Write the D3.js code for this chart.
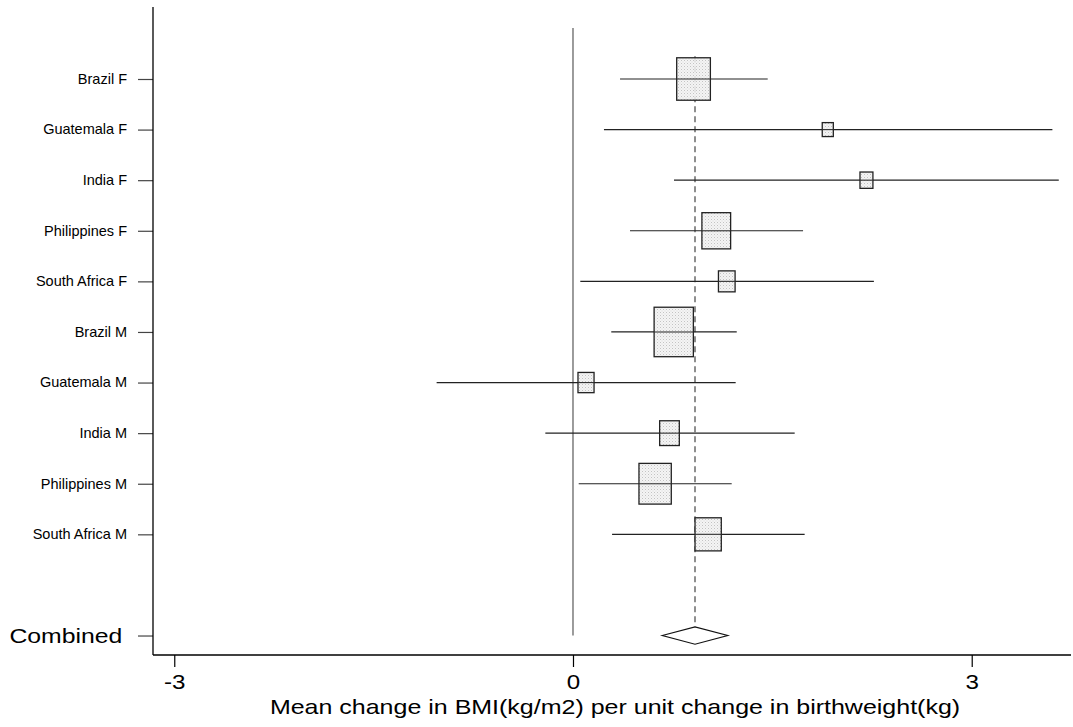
<!DOCTYPE html>
<html>
<head>
<meta charset="utf-8">
<script src="https://cdn.jsdelivr.net/npm/d3@7"></script>
<style>
  html, body { margin: 0; padding: 0; background: #fff; }
  svg { display: block; font-family: "Liberation Sans", Arial, sans-serif; }
</style>
</head>
<body>
<svg id="chart" width="1073" height="727"></svg>
<script>
// ---- Data ----
const studies = ["Brazil F", "Guatemala F", "India F", "Philippines F", "South Africa F",
                 "Brazil M", "Guatemala M", "India M", "Philippines M", "South Africa M"];
const estimates = [0.907, 1.917, 2.208, 1.078, 1.157, 0.758, 0.098, 0.726, 0.618, 1.017];
const lowerCI   = [0.354, 0.233, 0.760, 0.429, 0.055, 0.288, -1.026, -0.208, 0.043, 0.294];
const upperCI   = [1.465, 3.607, 3.655, 1.731, 2.264, 1.232, 1.224, 1.668, 1.194, 1.743];
const weights   = [17.6, 1.9, 2.6, 12.8, 4.3, 23.9, 4.0, 6.0, 16.2, 10.7];
const combinedLabel = "Combined";
const combinedEstimate = 0.918;
const combinedLower = 0.672;
const combinedUpper = 1.164;
const xTickValues = [-3, 0, 3];
const xTickLabels = ["-3", "0", "3"];
const xTitle = "Mean change in BMI(kg/m2) per unit change in birthweight(kg)";

// ---- Layout ----
const svg = d3.select("#chart");
const plotLeft = 153, plotRight = 1071, plotTop = 7, plotBottom = 655;

const x = d3.scaleLinear().domain([-3.160, 3.747]).range([plotLeft, plotRight]);
const combinedRow = studies.length + 2;
const y = d3.scaleLinear().domain([-0.423, 12.385]).range([plotTop, plotBottom]);
const boxW = d3.scaleSqrt().domain([0, 100]).range([0, 80.3]);
const aspect = 1.26;

// stipple pattern
const defs = svg.append("defs");
const pat = defs.append("pattern").attr("id", "stip")
  .attr("patternUnits", "userSpaceOnUse").attr("width", 3).attr("height", 3);
pat.append("rect").attr("width", 3).attr("height", 3).attr("fill", "#f3f3f3");
pat.append("rect").attr("width", 1).attr("height", 1).attr("fill", "#bdbdbd");
pat.append("rect").attr("x", 1.5).attr("y", 1.5).attr("width", 1).attr("height", 1).attr("fill", "#d4d4d4");

// zero line
svg.append("line")
  .attr("x1", x(0)).attr("x2", x(0))
  .attr("y1", 28).attr("y2", y(combinedRow))
  .attr("stroke", "#666").attr("stroke-width", 1.3);

// dashed combined estimate line
svg.append("line")
  .attr("x1", x(combinedEstimate)).attr("x2", x(combinedEstimate))
  .attr("y1", y(0.55)).attr("y2", y(combinedRow) - 9)
  .attr("stroke", "#444").attr("stroke-width", 1.2)
  .attr("stroke-dasharray", "6,4");

const rows = studies.map((s, i) => ({
  name: s, est: estimates[i], lo: lowerCI[i], hi: upperCI[i], w: weights[i], row: i + 1
}));

// CI lines
svg.append("g").selectAll("line").data(rows).join("line")
  .attr("x1", d => x(d.lo)).attr("x2", d => x(d.hi))
  .attr("y1", d => y(d.row)).attr("y2", d => y(d.row))
  .attr("stroke", "#222").attr("stroke-width", 1.2);

// boxes
svg.append("g").selectAll("rect").data(rows).join("rect")
  .attr("x", d => x(d.est) - boxW(d.w) / 2)
  .attr("y", d => y(d.row) - boxW(d.w) * aspect / 2)
  .attr("width", d => boxW(d.w))
  .attr("height", d => boxW(d.w) * aspect)
  .attr("fill", "url(#stip)").attr("fill-opacity", 0.9)
  .attr("stroke", "#222").attr("stroke-width", 1.3);

// CI lines cross the boxes in the reference
svg.append("g").selectAll("line").data(rows).join("line")
  .attr("x1", d => x(d.est) - boxW(d.w) / 2).attr("x2", d => x(d.est) + boxW(d.w) / 2)
  .attr("y1", d => y(d.row)).attr("y2", d => y(d.row))
  .attr("stroke", "#333").attr("stroke-width", 1.1);

// combined diamond
const cy = y(combinedRow);
const dh = 8.7;
svg.append("path")
  .attr("d", `M${x(combinedLower)},${cy} L${x(combinedEstimate)},${cy - dh} L${x(combinedUpper)},${cy} L${x(combinedEstimate)},${cy + dh} Z`)
  .attr("fill", "#fff").attr("stroke", "#111").attr("stroke-width", 1.2);

// x axis
const xAxis = d3.axisBottom(x).tickValues(xTickValues)
  .tickFormat((d, i) => xTickLabels[i]).tickSize(12).tickSizeOuter(0);
const gx = svg.append("g").attr("transform", `translate(0,${plotBottom})`).call(xAxis);
gx.select(".domain").remove();
gx.selectAll(".tick line").attr("stroke", "#000").attr("stroke-width", 1.2);
gx.selectAll(".tick text")
  .attr("fill", "#000").attr("font-size", 21).attr("y", 0).attr("dy", null)
  .attr("transform", "translate(0,34) scale(1.15,1)")
  .attr("font-family", "Liberation Sans, Arial, sans-serif");
svg.append("line")
  .attr("x1", plotLeft).attr("x2", plotRight)
  .attr("y1", plotBottom).attr("y2", plotBottom)
  .attr("stroke", "#000").attr("stroke-width", 1.3);

// y axis
const yTicks = rows.map(d => d.row).concat([combinedRow]);
const yLabels = studies.concat([combinedLabel]);
const yAxis = d3.axisLeft(y).tickValues(yTicks)
  .tickFormat((d, i) => yLabels[i]).tickSize(15).tickPadding(11).tickSizeOuter(0);
const gy = svg.append("g").attr("transform", `translate(${plotLeft},0)`).call(yAxis);
gy.select(".domain").remove();
gy.selectAll(".tick line").attr("stroke", "#444").attr("stroke-width", 1.2);
gy.selectAll(".tick text")
  .attr("fill", "#000").attr("font-size", 14.5).attr("dy", "0.3em")
  .attr("font-family", "Liberation Sans, Arial, sans-serif");
gy.selectAll(".tick").filter(d => d === combinedRow).select("text")
  .attr("font-size", 21).attr("dy", "0.35em")
  .attr("transform", "translate(-26,0) scale(1.18,1) translate(22,0)");
svg.append("line")
  .attr("x1", plotLeft).attr("x2", plotLeft)
  .attr("y1", plotTop).attr("y2", plotBottom)
  .attr("stroke", "#000").attr("stroke-width", 1.3);

// x title
svg.append("text")
  .attr("transform", `translate(${(plotLeft + plotRight) / 2 + 3},714) scale(1.19,1)`)
  .attr("text-anchor", "middle").attr("font-size", 21).attr("fill", "#000")
  .text(xTitle);
</script>
</body>
</html>
